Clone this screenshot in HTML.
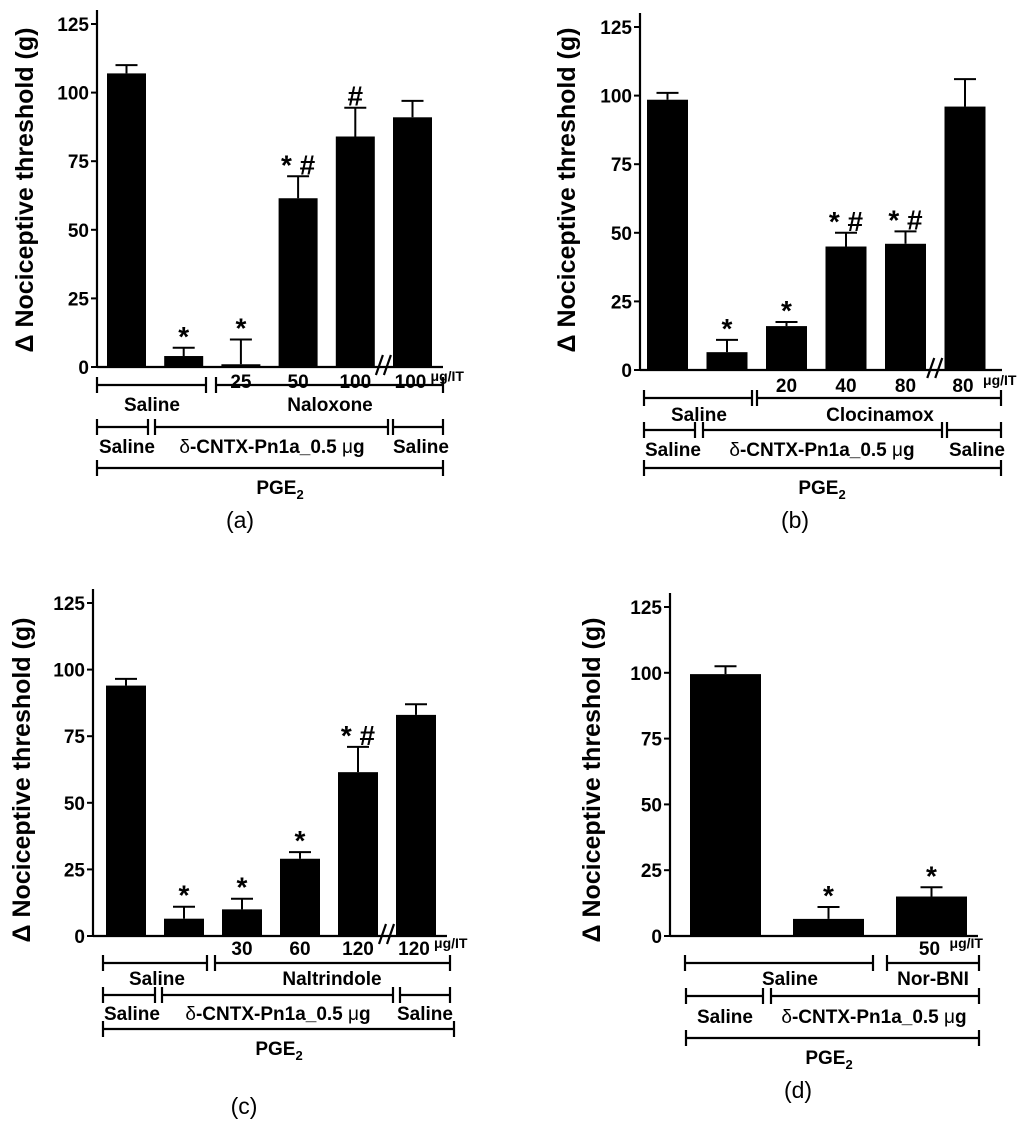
<!DOCTYPE html>
<html><head><meta charset="utf-8"><style>
html,body{margin:0;padding:0;background:#fff;}
svg{display:block;font-family:"Liberation Sans",Arial,sans-serif;}
</style></head><body>
<svg id="fig" width="1024" height="1142" viewBox="0 0 1024 1142" xmlns="http://www.w3.org/2000/svg"></svg>
<script>
// ---- data ----
const yTicks = [0, 25, 50, 75, 100, 125];
const aValues = [107, 4, 1, 61.5, 84, 91];
const aErrors = [110, 7, 10, 69.5, 94.5, 97];
const aMarks = ["", "*", "*", "* #", "#", ""];
const aDoses = ["", "", "25", "50", "100", "100"];
const bValues = [98.5, 6.5, 16, 45, 46, 96];
const bErrors = [101, 11, 17.5, 50, 50.5, 106];
const bMarks = ["", "*", "*", "* #", "* #", ""];
const bDoses = ["", "", "20", "40", "80", "80"];
const cValues = [94, 6.5, 10, 29, 61.5, 83];
const cErrors = [96.5, 11, 14, 31.5, 71, 87];
const cMarks = ["", "*", "*", "*", "* #", ""];
const cDoses = ["", "", "30", "60", "120", "120"];
const dValues = [99.5, 6.5, 15];
const dErrors = [102.5, 11, 18.5];
const dMarks = ["", "*", "*"];
const dDoses = ["", "", "50"];

const NS = "http://www.w3.org/2000/svg";
const svg = document.getElementById('fig');
function mk(tag, attrs, parent, text){
  const e = document.createElementNS(NS, tag);
  for (const k in attrs) e.setAttribute(k, attrs[k]);
  if (text !== undefined) e.textContent = text;
  (parent || svg).appendChild(e);
  return e;
}

function panel(p){
  const g = mk('g', {});
  
  
  const y = v => p.y0 - (v / 125) * (p.y0 - p.y125);
  const bx = i => p.bar0 + i * p.step;
  const ax = mk('line', {x1:p.ax, y1:p.y125 - 14, x2:p.ax, y2:p.y0, stroke:'#000','stroke-width':2.2}, g);
  
  
  yTicks.forEach(t => {
    mk('line', {x1:p.ax - 6, y1:y(t), x2:p.ax, y2:y(t), stroke:'#000','stroke-width':2}, g);
    const tl = mk('text', {x:p.ax - 8, y:y(t) + 7, 'text-anchor':'end','font-size':19,'font-weight':'bold'}, g, String(t));
    
    
  });
  const xl = mk('line', {x1:p.ax, y1:p.y0, x2:p.xEnd, y2:p.y0, stroke:'#000','stroke-width':2.2}, g);
  
  
  const tt = mk('text', {x:0, y:0, transform:`translate(${p.tx},${p.ty}) rotate(-90)`, 'text-anchor':'middle','font-size':25,'font-weight':'bold'}, g, 'Δ Nociceptive threshold (g)');
  
  
  p.values.forEach((v, i) => {
    const x = bx(i);
    const r = mk('rect', {x:x, y:y(v), width:p.bw, height:p.y0 - y(v), fill:'#000'}, g);
    
    
    const cx = x + p.bw / 2;
    const e = p.errors[i];
    const eb = mk('path', {d:`M${cx},${y(v)} V${y(e)} M${cx - 11},${y(e)} H${cx + 11}`, stroke:'#000','stroke-width':2,fill:'none'}, g);
    
    
    if (p.marks[i]) {
      const m = mk('text', {x:cx, y:y(e) - 2, 'text-anchor':'middle','font-size':28,'font-weight':'bold'}, g, p.marks[i]);
      
      
    }
    if (p.doses[i]) {
      const last = (i === p.values.length - 1);
      const d = mk('text', {x:cx + (last ? -2 : 0), y:p.doseY, 'text-anchor':'middle','font-size':19,'font-weight':'bold'}, g, p.doses[i]);
      
      
      if (last) {
        const u = mk('text', {x:cx + 18, y:p.doseY - 7, 'font-size':14,'font-weight':'bold'}, g, 'μg/IT');
        
        
      }
    }
  });
  if (p.brk) {
    const bxp = (bx(p.values.length - 2) + p.bw + bx(p.values.length - 1)) / 2;
    const br = mk('path', {d:`M${bxp - 8},${p.y0 + 8} L${bxp - 1},${p.y0 - 12} M${bxp},${p.y0 + 8} L${bxp + 7},${p.y0 - 12}`, stroke:'#000','stroke-width':2.2,fill:'none'}, g);
    
    
  }
  p.brackets.forEach(b => {
    const [x1, x2, yy, label, lx, ly, name] = b;
    const bg = mk('g', {}, g);
    
    
    mk('path', {d:`M${x1},${yy - 8} V${yy + 8} M${x1},${yy} H${x2} M${x2},${yy - 8} V${yy + 8}`, stroke:'#000','stroke-width':2.2,fill:'none'}, bg);
    if (label) {
      const t = mk('text', {x:lx, y:ly, 'text-anchor':'middle','font-size':19,'font-weight':'bold'}, bg);
      if (label === 'PGE2') {
        t.textContent = 'PGE';
        mk('tspan', {'font-size':13, dy:5}, t, '2');
      } else if (label.startsWith('δ')) {
        mk('tspan', {'font-weight':'normal'}, t, 'δ');
        mk('tspan', {}, t, '-CNTX-Pn1a_0.5 ');
        mk('tspan', {'font-weight':'normal'}, t, 'μ');
        mk('tspan', {}, t, 'g');
      } else t.textContent = label;
    }
  });
  const pl = mk('text', {x:p.plx, y:p.ply, 'text-anchor':'middle','font-size':23}, g, p.letter);
  
  
}

panel({id:'a', ax:97, y0:367, y125:24, xEnd:443, bar0:107, step:57.2, bw:39, tx:33, ty:190,
  values:aValues, errors:aErrors, marks:aMarks, doses:aDoses, doseY:388, brk:true,
  brackets:[[97,206,385,'Saline',152,411,'bracket-saline'],[216,443,385,'Naloxone',330,411,'bracket-naloxone'],
    [97,148,427,'Saline',127,453,'bracket-saline-2'],[155,388,427,'δ',272,453,'bracket-toxin'],[393,443,427,'Saline',421,453,'bracket-saline-3'],
    [97,443,468,'PGE2',280,494,'bracket-pge2']],
  plx:240, ply:528, letter:'(a)'});
panel({id:'b', ax:640, y0:370, y125:27, xEnd:1002, bar0:647, step:59.5, bw:41, tx:575, ty:190,
  values:bValues, errors:bErrors, marks:bMarks, doses:bDoses, doseY:392, brk:true,
  brackets:[[644,752,398,'Saline',699,421,'bracket-saline'],[757,1001,398,'Clocinamox',880,421,'bracket-clocinamox'],
    [644,695,430,'Saline',673,456,'bracket-saline-2'],[703,942,430,'δ',822,456,'bracket-toxin'],[947,1001,430,'Saline',977,456,'bracket-saline-3'],
    [644,1001,468,'PGE2',822,494,'bracket-pge2']],
  plx:795, ply:528, letter:'(b)'});
panel({id:'c', ax:93, y0:936, y125:603, xEnd:447, bar0:106, step:58, bw:40, tx:30, ty:780,
  values:cValues, errors:cErrors, marks:cMarks, doses:cDoses, doseY:955, brk:true,
  brackets:[[103,207,963,'Saline',157,985,'bracket-saline'],[215,450,963,'Naltrindole',332,985,'bracket-naltrindole'],
    [103,155,995,'Saline',132,1020,'bracket-saline-2'],[162,393,995,'δ',278,1020,'bracket-toxin'],[400,450,995,'Saline',425,1020,'bracket-saline-3'],
    [103,454,1029,'PGE2',279,1055,'bracket-pge2']],
  plx:244, ply:1114, letter:'(c)'});
panel({id:'d', ax:670, y0:936, y125:607, xEnd:978, bar0:690, step:103, bw:71, tx:600, ty:780,
  values:dValues, errors:dErrors, marks:dMarks, doses:dDoses, doseY:955, brk:false,
  brackets:[[685,873,963,'Saline',790,985,'bracket-saline'],[887,979,963,'Nor-BNI',933,985,'bracket-nor-bni'],
    [686,763,996,'Saline',725,1023,'bracket-saline-2'],[771,979,996,'δ',874,1023,'bracket-toxin'],
    [686,979,1038,'PGE2',829,1064,'bracket-pge2']],
  plx:798, ply:1098, letter:'(d)'});
</script>
</body></html>
